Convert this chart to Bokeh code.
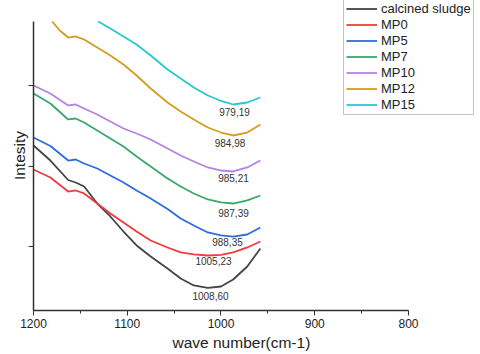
from bokeh.plotting import figure
from bokeh.models import Range1d, SingleIntervalTicker, FixedTicker, Legend, LegendItem, Title
from bokeh.embed import file_html
from bokeh.resources import INLINE
from bokeh.core.properties import value

# ---- data ----
wave = [1200, 1182, 1163, 1155, 1146, 1132, 1118, 1104, 1090, 1075, 1057, 1043, 1029, 1014, 1000, 987, 972, 958]
calcined_sludge = [2.255, 2.068, 1.826, 1.795, 1.746, 1.534, 1.373, 1.186, 1.013, 0.876, 0.727, 0.603, 0.516, 0.485, 0.503, 0.590, 0.752, 0.975]
mp0 = [1.957, 1.857, 1.683, 1.696, 1.659, 1.534, 1.410, 1.298, 1.186, 1.075, 0.988, 0.926, 0.901, 0.888, 0.895, 0.926, 0.988, 1.062]
mp5 = [2.354, 2.249, 2.068, 2.081, 2.031, 1.969, 1.882, 1.795, 1.696, 1.596, 1.466, 1.348, 1.261, 1.174, 1.137, 1.124, 1.149, 1.236]
mp7 = [2.901, 2.777, 2.578, 2.590, 2.541, 2.441, 2.342, 2.242, 2.118, 1.994, 1.845, 1.746, 1.659, 1.584, 1.547, 1.534, 1.572, 1.634]
mp10 = [3.000, 2.901, 2.752, 2.764, 2.714, 2.640, 2.553, 2.466, 2.404, 2.329, 2.218, 2.131, 2.056, 1.982, 1.944, 1.932, 1.982, 2.068]
wave_mp12 = [1180, 1172, 1163, 1155, 1146, 1132, 1118, 1104, 1090, 1075, 1057, 1043, 1029, 1014, 1000, 987, 972, 958]
mp12 = [3.795, 3.683, 3.596, 3.609, 3.572, 3.472, 3.373, 3.261, 3.124, 2.963, 2.789, 2.677, 2.578, 2.478, 2.416, 2.379, 2.416, 2.516]
wave_mp15 = [1131, 1118, 1104, 1090, 1075, 1057, 1043, 1029, 1014, 1000, 987, 972, 958]
mp15 = [3.795, 3.708, 3.609, 3.509, 3.373, 3.199, 3.087, 2.975, 2.876, 2.808, 2.764, 2.789, 2.851]

series_names = ["calcined sludge", "MP0", "MP5", "MP7", "MP10", "MP12", "MP15"]
series_x = [wave, wave, wave, wave, wave, wave_mp12, wave_mp15]
series_y = [calcined_sludge, mp0, mp5, mp7, mp10, mp12, mp15]
colors = ["#444444", "#ef3b3b", "#2d6ed8", "#3aa86a", "#b781e6", "#d29e1c", "#27c8cf"]

min_text = ["979,19", "984,98", "985,21", "987,39", "988,35", "1005,23", "1008,60"]
min_x = [985.6, 990.4, 986.7, 986.7, 993.1, 1008.0, 1011.2]
min_y = [2.665, 2.280, 1.845, 1.410, 1.050, 0.814, 0.391]

x_axis_bounds = (800, 1200)
y_axis_bounds = (0.205, 3.795)
x_ticks_interval = 100
y_ticks = [1, 2, 3]

FONT = "Liberation Sans"

p = figure(width=480, height=354, output_backend="svg", toolbar_location=None,
           x_range=Range1d(1200, 725.33), y_range=Range1d(0.205, 4.056),
           min_border_left=33, min_border_right=2, min_border_top=0, min_border_bottom=44)
p.outline_line_color = None
p.grid.visible = False
p.background_fill_color = "white"
p.border_fill_color = "white"

items = []
for name, xs, ys, c in zip(series_names, series_x, series_y, colors):
    r = p.line(xs, ys, line_color=c, line_width=1.8)
    items.append(LegendItem(label=name, renderers=[r]))

p.text(x=min_x, y=min_y, text=min_text, text_font=value(FONT), text_font_size="10px",
       text_color="#333333", text_align="center", text_baseline="middle")

# x axis
xa = p.xaxis[0]
xa.bounds = x_axis_bounds
xa.ticker = SingleIntervalTicker(interval=x_ticks_interval, num_minor_ticks=2)
xa.major_tick_out = 5
xa.major_tick_in = 0
xa.minor_tick_out = 3
xa.minor_tick_in = 0
xa.axis_line_color = "#333333"
xa.axis_line_width = 1.5
xa.major_tick_line_color = "#333333"
xa.minor_tick_line_color = "#333333"
xa.major_label_text_font = FONT
xa.major_label_text_font_size = "12px"
xa.major_label_text_color = "#222222"
xa.major_label_standoff = 3

# y axis (ticks without labels)
ya = p.yaxis[0]
ya.bounds = y_axis_bounds
ya.ticker = FixedTicker(ticks=y_ticks, minor_ticks=[])
ya.major_tick_out = 5
ya.major_tick_in = 0
ya.axis_line_color = "#333333"
ya.axis_line_width = 1.5
ya.major_tick_line_color = "#333333"
ya.major_label_text_font_size = "1px"
ya.major_label_text_color = None
ya.major_label_standoff = 0
ya.axis_label = "Intesity"
ya.axis_label_text_font = FONT
ya.axis_label_text_font_size = "15.5px"
ya.axis_label_text_font_style = "normal"
ya.axis_label_text_color = "#222222"
ya.axis_label_standoff = 1

xt = Title(text="wave number(cm-1)", align="left", offset=139, standoff=2,
           text_font=FONT, text_font_size="15.5px", text_font_style="normal", text_color="#222222")
p.add_layout(xt, "below")

legend = Legend(items=items, location=(310, 195), padding=2, margin=0, spacing=1,
                label_height=15, glyph_height=15, glyph_width=31, label_standoff=4,
                label_text_font=FONT, label_text_font_size="13px", label_text_color="#222222",
                border_line_color="#888888", border_line_width=1, background_fill_alpha=1)
p.add_layout(legend, "center")

open("out.html", "w").write(file_html(p, INLINE))
